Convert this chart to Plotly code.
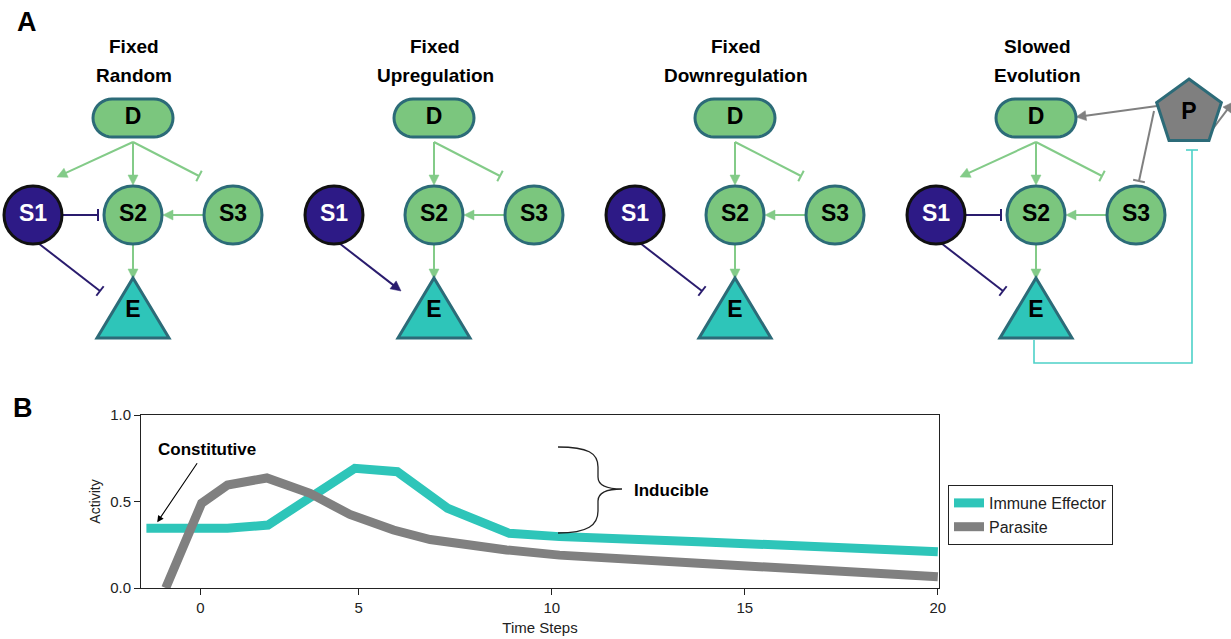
import math
import plotly.graph_objects as go

# ---------------- Panel B data ----------------
series_names = ["Immune Effector", "Parasite"]
effector_time = [-0.5, 1.6, 2.65, 4.9, 6.0, 7.3, 8.9, 10.2, 13.8, 17.0, 20.0]
effector_activity = [0.345, 0.345, 0.364, 0.692, 0.672, 0.461, 0.316, 0.297, 0.268, 0.239, 0.210]
parasite_time = [0.0, 0.93, 1.6, 2.62, 3.74, 4.77, 5.9, 6.85, 8.83, 10.2, 13.8, 17.0, 20.0]
parasite_activity = [0.0, 0.49, 0.595, 0.636, 0.547, 0.425, 0.335, 0.28, 0.22, 0.19, 0.143, 0.104, 0.065]
time_tick_labels = ["0", "5", "10", "15", "20"]
time_tick_values = [0.9, 5, 10, 15, 20]
activity_tick_values = [0.0, 0.5, 1.0]
activity_tick_labels = ["0.0", "0.5", "1.0"]

# ---------------- Panel A content ----------------
panel_titles = [["Fixed", "Random"], ["Fixed", "Upregulation"],
                ["Fixed", "Downregulation"], ["Slowed", "Evolution"]]
node_labels = ["D", "S1", "S2", "S3", "E"]
full_edges = [("D", "S1", "+"), ("D", "S2", "+"), ("D", "S3", "-"), ("S3", "S2", "+"),
              ("S1", "S2", "-"), ("S2", "E", "+"), ("S1", "E", "-")]
panel_edges = [
    full_edges,
    [("D", "S2", "+"), ("D", "S3", "-"), ("S3", "S2", "+"), ("S2", "E", "+"), ("S1", "E", "+")],
    [("D", "S2", "+"), ("D", "S3", "-"), ("S3", "S2", "+"), ("S2", "E", "+"), ("S1", "E", "-")],
    full_edges,
]
parasite_edges = [("P", "D", "+"), ("P", "S3", "-"), ("P", "out", "+")]

# ---------------- styling / layout geometry (pixels of the canvas) ----------------
W, H = 1231, 639
FONT = "Arial, 'Liberation Sans', Helvetica, sans-serif"
GREEN_FILL = "#7BC67E"
GREEN_EDGE = "#83CB88"
NODE_BORDER = "#2C6B78"
NAVY = "#2D1A86"
NAVY_EDGE = "#2A1C6E"
TEAL = "#2EC5B9"
TEAL_LIGHT = "#4DD1C8"
GRAY = "#808080"
INK = "#222222"

PANEL_CX = [133, 434, 735, 1036]
NODE_POS = {"D": (0, 118), "S1": (-100, 215), "S2": (0, 215), "S3": (100, 215), "E": (0, 311)}
CIRCLE_R = 29
EDGE_GEOM = {
    ("D", "S1"): ((0, 142), (-76, 177)),
    ("D", "S2"): ((0, 142), (0, 185)),
    ("D", "S3"): ((0, 142), (66, 176)),
    ("S3", "S2"): ((71, 215), (30, 215)),
    ("S1", "S2"): ((-71, 215), (-35, 215)),
    ("S2", "E"): ((0, 244), (0, 279)),
    ("S1", "E"): ((-95, 243), (-33, 291)),
}
EDGE_COLOR = {"D": GREEN_EDGE, "S2": GREEN_EDGE, "S3": GREEN_EDGE, "S1": NAVY_EDGE, "P": GRAY}
P_CENTER = (1189, 113)
P_R = 34
P_GEOM = {
    ("P", "D"): ((1157, 106), (1076, 117)),
    ("P", "S3"): ((1154, 111), (1139, 181)),
    ("P", "out"): ((1212, 130), (1233, 102)),
}
FEEDBACK_PATH = [(1034, 340), (1034, 363), (1192, 363), (1192, 150)]

shapes = []


def _sh(d):
    d.update(xref="x2", yref="y2", layer="below")
    shapes.append(d)


def edge(p0, p1, kind, color, width=2):
    x0, y0 = p0
    x1, y1 = p1
    L = math.hypot(x1 - x0, y1 - y0)
    ux, uy = (x1 - x0) / L, (y1 - y0) / L
    nx, ny = -uy, ux
    if kind == "+":
        al, aw = 10, 5
        bx, by = x1 - ux * al, y1 - uy * al
        _sh(dict(type="line", x0=x0, y0=y0, x1=bx + ux * 2, y1=by + uy * 2,
                 line=dict(color=color, width=width)))
        _sh(dict(type="path",
                 path=f"M {x1},{y1} L {bx + nx * aw},{by + ny * aw} L {bx - nx * aw},{by - ny * aw} Z",
                 fillcolor=color, line=dict(color=color, width=0.5)))
    else:
        bw = 6
        _sh(dict(type="line", x0=x0, y0=y0, x1=x1, y1=y1, line=dict(color=color, width=width)))
        _sh(dict(type="line", x0=x1 + nx * bw, y0=y1 + ny * bw, x1=x1 - nx * bw, y1=y1 - ny * bw,
                 line=dict(color=color, width=width)))


def poly_path(pts):
    return "M " + " L ".join(f"{x:.2f},{y:.2f}" for x, y in pts) + " Z"


text_x, text_y, text_c = [], [], []

for cx, edges in zip(PANEL_CX, panel_edges):
    for src, dst, kind in edges:
        (a, b), (c, d) = EDGE_GEOM[(src, dst)]
        edge((cx + a, b), (cx + c, d), kind, EDGE_COLOR[src])

for (src, dst, kind) in parasite_edges:
    p0, p1 = P_GEOM[(src, dst)]
    edge(p0, p1, kind, GRAY)

# feedback E -| P
fp = FEEDBACK_PATH
_sh(dict(type="path", path="M " + " L ".join(f"{x},{y}" for x, y in fp),
         line=dict(color=TEAL_LIGHT, width=1.6)))
_sh(dict(type="line", x0=fp[-1][0] - 6, y0=fp[-1][1], x1=fp[-1][0] + 6, y1=fp[-1][1],
         line=dict(color=TEAL_LIGHT, width=1.6)))

# nodes
for cx in PANEL_CX:
    dx, dy = NODE_POS["D"]
    hw, r = 40, 19
    pts = []
    for k in range(0, 181, 10):
        t = math.radians(90 + k)
        pts.append((cx + dx - (hw - r) + r * math.cos(t), dy + r * math.sin(t)))
    for k in range(0, 181, 10):
        t = math.radians(-90 + k)
        pts.append((cx + dx + (hw - r) + r * math.cos(t), dy + r * math.sin(t)))
    _sh(dict(type="path", path=poly_path(pts), fillcolor=GREEN_FILL, line=dict(color=NODE_BORDER, width=3)))
    for name in ["S1", "S2", "S3"]:
        px, py = NODE_POS[name]
        fill = NAVY if name == "S1" else GREEN_FILL
        border = "#111111" if name == "S1" else NODE_BORDER
        _sh(dict(type="circle", x0=cx + px - CIRCLE_R, x1=cx + px + CIRCLE_R,
                 y0=py - CIRCLE_R, y1=py + CIRCLE_R, fillcolor=fill, line=dict(color=border, width=3)))
    _sh(dict(type="path", path=poly_path([(cx, 278), (cx + 36, 338), (cx - 36, 338)]),
             fillcolor=TEAL, line=dict(color=NODE_BORDER, width=3)))
    for name in node_labels:
        px, py = NODE_POS[name]
        text_x.append(cx + px)
        text_y.append(py)
        text_c.append("white" if name == "S1" else "black")

pent = [(P_CENTER[0] + P_R * math.cos(math.radians(-90 + 72 * k)),
         P_CENTER[1] + P_R * math.sin(math.radians(-90 + 72 * k))) for k in range(5)]
_sh(dict(type="path", path=poly_path(pent), fillcolor="#7F7F7F", line=dict(color=NODE_BORDER, width=3)))
text_x.append(P_CENTER[0])
text_y.append(P_CENTER[1])
text_c.append("black")
node_text = node_labels * len(PANEL_CX) + ["P"]

# brace for "Inducible"
_sh(dict(type="path",
         path="M 558,447 C 588,447 598,453 598,467 L 598,477 C 598,485 606,489 622,489 "
              "C 606,489 598,493 598,501 L 598,511 C 598,525 588,533 558,533",
         line=dict(color=INK, width=1.3)))

fig = go.Figure()
fig.add_trace(go.Scatter(x=effector_time, y=effector_activity, mode="lines", name=series_names[0],
                         line=dict(color=TEAL, width=9), hoverinfo="skip"))
fig.add_trace(go.Scatter(x=parasite_time, y=parasite_activity, mode="lines", name=series_names[1],
                         line=dict(color=GRAY, width=9), hoverinfo="skip"))
fig.add_trace(go.Scatter(x=text_x, y=text_y, text=node_text, mode="text", xaxis="x2", yaxis="y2",
                         textfont=dict(family=FONT, size=23, color=text_c, weight="bold"),
                         showlegend=False, hoverinfo="skip"))

annotations = []
for cx, (l1, l2) in zip(PANEL_CX, panel_titles):
    for txt, yy in ((l1, 46), (l2, 75)):
        annotations.append(dict(x=cx + 1, y=yy, xref="x2", yref="y2", text=txt, showarrow=False,
                                font=dict(family=FONT, size=19, color="black", weight="bold")))
annotations.append(dict(x=27, y=22, xref="x2", yref="y2", text="A", showarrow=False,
                        font=dict(family=FONT, size=27, color="black", weight="bold")))
annotations.append(dict(x=23, y=408, xref="x2", yref="y2", text="B", showarrow=False,
                        font=dict(family=FONT, size=27, color="black", weight="bold")))
annotations.append(dict(x=1.07, y=0.8, xref="x", yref="y", text="Constitutive", showarrow=False,
                        font=dict(family=FONT, size=17, color="black", weight="bold")))
annotations.append(dict(x=-0.22, y=0.38, ax=0.84, ay=0.73, xref="x", yref="y", axref="x", ayref="y",
                        text="", showarrow=True, arrowhead=2, arrowsize=1.2, arrowwidth=1.1,
                        arrowcolor="black"))
annotations.append(dict(x=671, y=490, xref="x2", yref="y2", text="Inducible", showarrow=False,
                        font=dict(family=FONT, size=17, color="black", weight="bold")))

fig.update_layout(
    width=W, height=H,
    margin=dict(l=0, r=0, t=0, b=0, pad=0, autoexpand=False),
    paper_bgcolor="white", plot_bgcolor="rgba(0,0,0,0)",
    font=dict(family=FONT, color=INK),
    showlegend=True,
    legend=dict(x=948 / W, y=1 - 485 / H, xanchor="left", yanchor="top",
                bordercolor=INK, borderwidth=1, bgcolor="white",
                font=dict(family=FONT, size=16, color=INK)),
    xaxis=dict(domain=[141 / W, 939 / W], range=[-0.64, 20.03], anchor="y",
               tickvals=time_tick_values, ticktext=time_tick_labels,
               ticks="outside", ticklen=6, tickcolor=INK, showline=True, linecolor=INK,
               linewidth=1, mirror=True, showgrid=False, zeroline=False, automargin=False,
               tickfont=dict(size=15, color=INK),
               title=dict(text="Time Steps", font=dict(size=15, color=INK), standoff=7)),
    yaxis=dict(domain=[1 - 588 / H, 1 - 415 / H], range=[0, 1], anchor="x",
               tickvals=activity_tick_values, ticktext=activity_tick_labels,
               ticks="outside", ticklen=6, tickcolor=INK, showline=True, linecolor=INK,
               linewidth=1, mirror=True, showgrid=False, zeroline=False, automargin=False,
               tickfont=dict(size=15, color=INK),
               title=dict(text="Activity", font=dict(size=14, color=INK), standoff=6)),
    xaxis2=dict(domain=[0, 1], range=[0, W], anchor="y2", visible=False, fixedrange=True, automargin=False),
    yaxis2=dict(domain=[0, 1], range=[H, 0], anchor="x2", visible=False, fixedrange=True, automargin=False),
    shapes=shapes,
    annotations=annotations,
)

fig.write_html("out.html", config={"displayModeBar": False},
               post_script="document.body.style.margin='0px';")
